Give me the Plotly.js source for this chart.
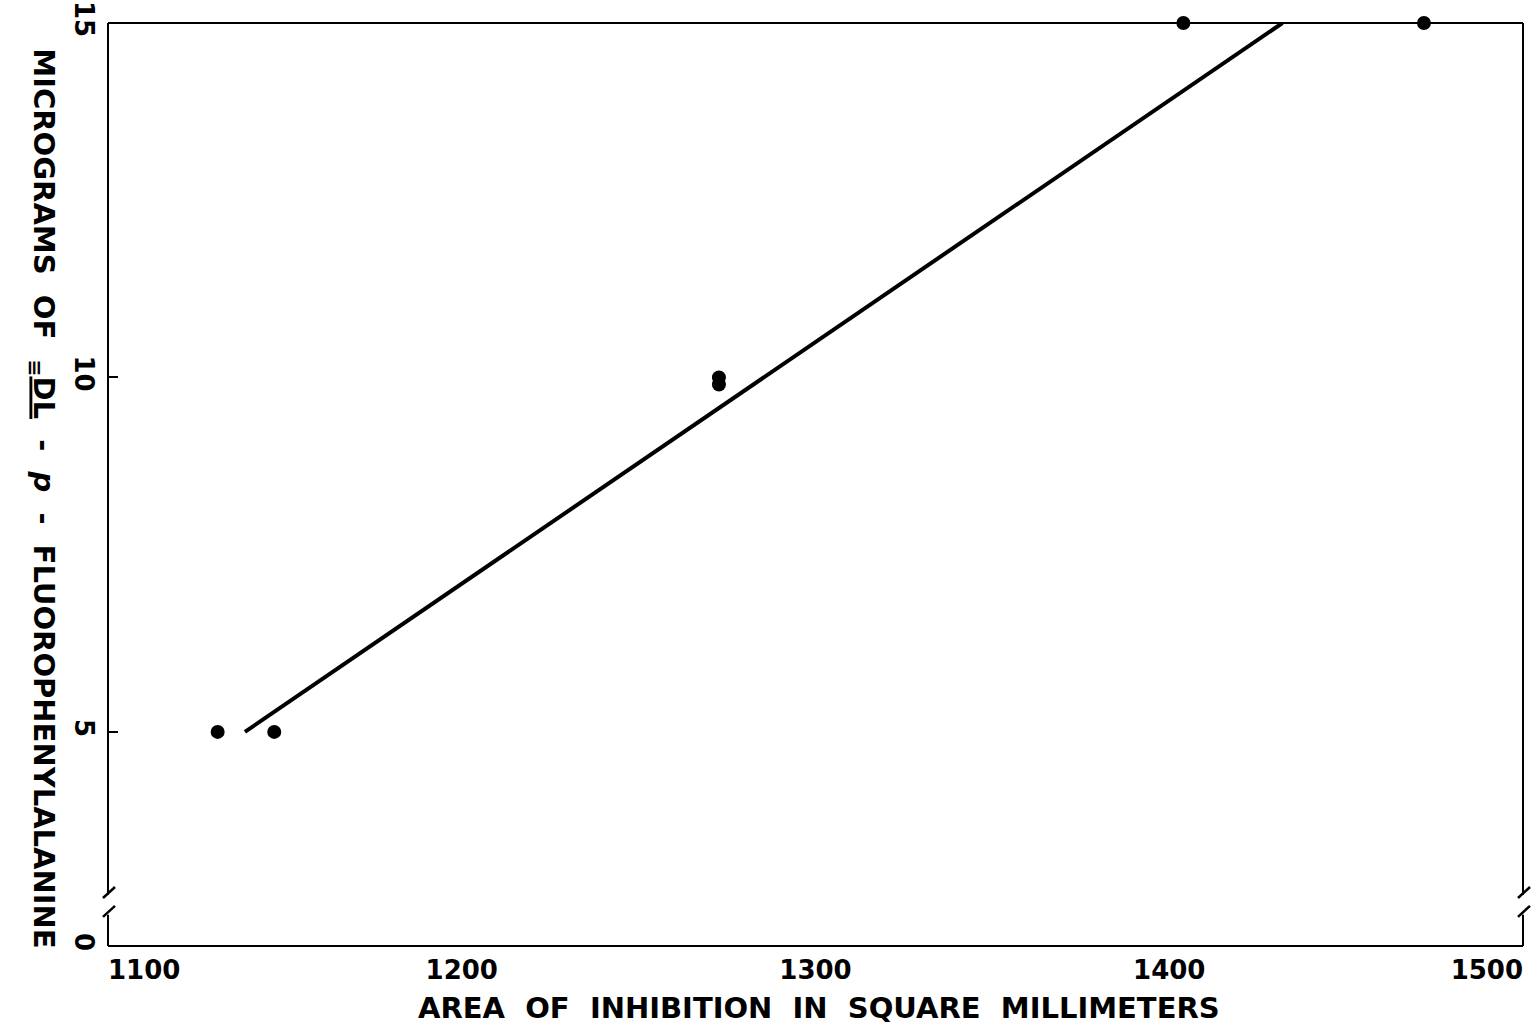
<!DOCTYPE html>
<html>
<head>
<meta charset="utf-8">
<script src="https://cdn.plot.ly/plotly-3.0.1.min.js"></script>
<style>html,body{margin:0;padding:0;background:#fff;}#chart{width:1537px;height:1032px;}</style>
</head>
<body>
<div id="chart"></div>
<script>
// Observed points: area of inhibition (mm^2) vs micrograms
const areaPoints = [1131, 1147, 1272.7, 1272.7, 1404, 1472];
const microgramPoints = [5, 5, 10, 9.9, 15, 15];
// Fitted line (endpoints as drawn)
const lineArea = [1138.7, 1432];
const lineMicrograms = [5, 15];
// Axis ticks (the y axis is broken: the bottom value stands for 0)
const xTickVals = [1100, 1200, 1300, 1400, 1500];
const xTickText = ['1100', '1200', '1300', '1400', '1500'];
const yTickVals = [1.98, 5, 10, 15];
const yTickText = ['0', '5', '10', '15'];

const xMin = 1100, xMax = 1500;
const yMin = 1.98, yMax = 15;
const breakLow = 2.42, breakHigh = 2.70;
const FONT = 'DejaVu Sans, Liberation Sans, sans-serif';
const tickFont = {family: FONT, size: 26, color: '#000', weight: 'bold'};

const traces = [
  {
    x: lineArea, y: lineMicrograms, mode: 'lines', type: 'scatter',
    line: {color: '#000', width: 4}, hoverinfo: 'skip', cliponaxis: false
  },
  {
    x: areaPoints, y: microgramPoints, mode: 'markers', type: 'scatter',
    marker: {color: '#000', size: 14}, cliponaxis: false
  },
  {x: [], y: [], xaxis: 'x2', yaxis: 'y', type: 'scatter', mode: 'markers'},
  {x: [], y: [], xaxis: 'x3', yaxis: 'y', type: 'scatter', mode: 'markers'}
];

function axisShapes() {
  const s = [];
  const ln = {color: '#000', width: 2};
  s.push({type: 'line', xref: 'paper', yref: 'paper', x0: 0, x1: 1, y0: 1, y1: 1, line: ln});
  s.push({type: 'line', xref: 'paper', yref: 'paper', x0: 0, x1: 1, y0: 0, y1: 0, line: ln});
  [0, 1].forEach(px => {
    s.push({type: 'line', xref: 'paper', yref: 'y', x0: px, x1: px, y0: yMin, y1: breakLow, line: ln});
    s.push({type: 'line', xref: 'paper', yref: 'y', x0: px, x1: px, y0: breakHigh, y1: yMax, line: ln});
    s.push({type: 'line', xref: 'paper', yref: 'y', xsizemode: 'pixel', ysizemode: 'pixel',
      xanchor: px, yanchor: breakHigh, x0: -5, x1: 7, y0: -3, y1: 8, line: {color: '#000', width: 2.5}});
    s.push({type: 'line', xref: 'paper', yref: 'y', xsizemode: 'pixel', ysizemode: 'pixel',
      xanchor: px, yanchor: breakLow, x0: -5, x1: 7, y0: -2, y1: 9, line: {color: '#000', width: 2.5}});
  });
  return s;
}

function xAxisFor(idx, pos) {
  return {
    range: [xMin, xMax], showgrid: false, zeroline: false, showline: false, ticks: '',
    tickvals: idx.map(i => xTickVals[i]), ticktext: idx.map(i => xTickText[i]),
    tickfont: tickFont, ticklabelstandoff: 6, ticklabelposition: pos,
    anchor: 'y', fixedrange: true
  };
}

const sp = '\u00a0\u00a0';
const layout = {
  width: 1537, height: 1032,
  margin: {l: 108, r: 14, t: 23, b: 86},
  paper_bgcolor: '#fff', plot_bgcolor: '#fff',
  showlegend: false,
  xaxis: xAxisFor([1, 2, 3], 'outside'),
  xaxis2: Object.assign(xAxisFor([0], 'outside right'), {overlaying: 'x', matches: 'x'}),
  xaxis3: Object.assign(xAxisFor([4], 'outside left'), {overlaying: 'x', matches: 'x'}),
  yaxis: {
    range: [yMin, yMax], showgrid: false, zeroline: false, showline: false,
    tickvals: yTickVals, ticktext: yTickText, ticks: 'inside', ticklen: 10, tickwidth: 2, tickcolor: '#000',
    tickangle: 90, tickfont: tickFont, ticklabelstandoff: 6
  },
  shapes: axisShapes(),
  annotations: [
    {
      text: 'AREA\u00a0 OF\u00a0 INHIBITION\u00a0 IN\u00a0 SQUARE\u00a0 MILLIMETERS',
      xref: 'paper', yref: 'paper', x: 0.5, y: 0, xanchor: 'center', yanchor: 'middle',
      yshift: -62, xshift: 3, showarrow: false,
      font: {family: FONT, size: 29, color: '#000', weight: 'bold'}
    },
    {
      text: 'MICROGRAMS' + sp + 'OF' + sp + '<sub>≡</sub><u>DL</u>' + sp + '-' + sp + '<i>p</i>' + sp + '-' + sp + 'FLUOROPHENYLALANINE',
      xref: 'paper', yref: 'paper', x: 0, y: 0.485, xanchor: 'center', yanchor: 'middle',
      xshift: -66, textangle: 90, showarrow: false,
      font: {family: FONT, size: 29, color: '#000', weight: 'bold'}
    }
  ]
};

Plotly.newPlot('chart', traces, layout, {displayModeBar: false, staticPlot: true});
</script>
</body>
</html>
